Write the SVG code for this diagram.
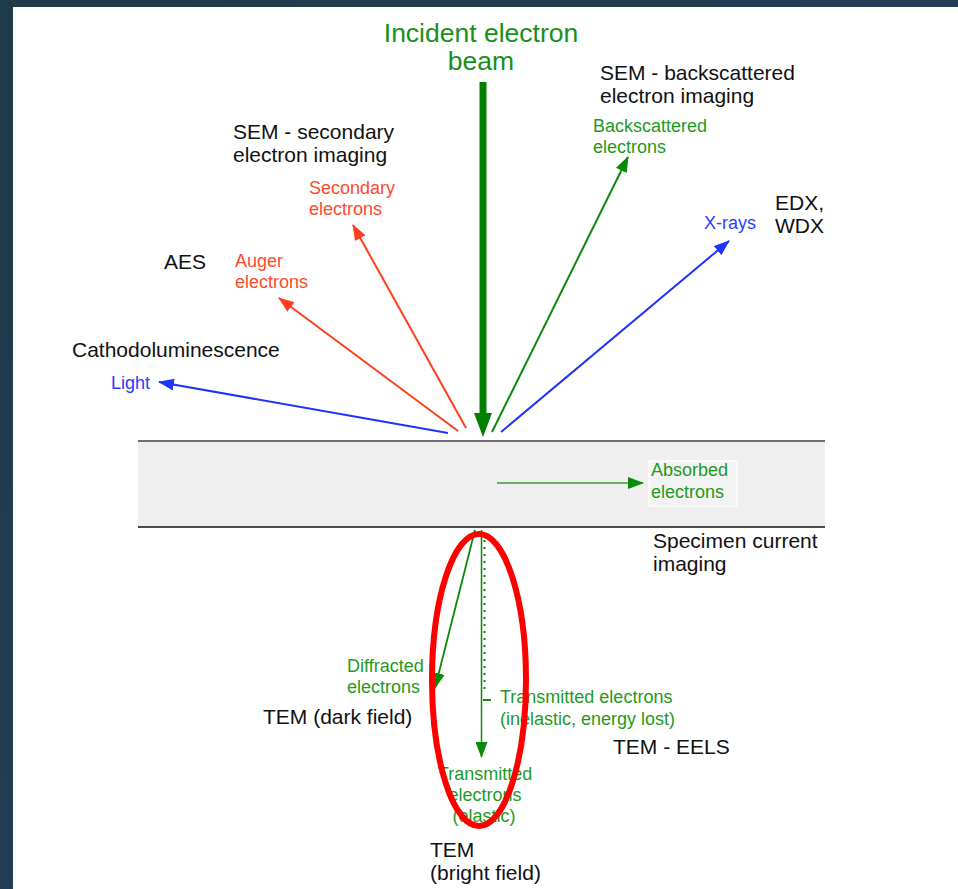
<svg xmlns="http://www.w3.org/2000/svg" width="958" height="889" viewBox="0 0 958 889">
<defs>
<linearGradient id="bg" x1="0" y1="0" x2="1" y2="1">
<stop offset="0" stop-color="#1f3a48"/>
<stop offset="0.5" stop-color="#223d55"/>
<stop offset="1" stop-color="#2c5068"/>
</linearGradient>
<marker id="ah-red" viewBox="0 0 16 12" refX="15" refY="6" markerWidth="16" markerHeight="12" markerUnits="userSpaceOnUse" orient="auto">
<path d="M0,0 L16,6 L0,12 Z" fill="#ff3d1f"/>
</marker>
<marker id="ah-blue" viewBox="0 0 16 12" refX="15" refY="6" markerWidth="16" markerHeight="12" markerUnits="userSpaceOnUse" orient="auto">
<path d="M0,0 L16,6 L0,12 Z" fill="#1f33ff"/>
</marker>
<marker id="ah-green" viewBox="0 0 16 12" refX="15" refY="6" markerWidth="16" markerHeight="12" markerUnits="userSpaceOnUse" orient="auto">
<path d="M0,0 L16,6 L0,12 Z" fill="#0a8a0a"/>
</marker>
</defs>
<style>
text { font-family: "Liberation Sans", Arial, sans-serif; }
.blk { font-size: 21px; fill: #111111; }
.sm { font-size: 18px; }
.g { fill: #1f9a1f; }
.r { fill: #ff4a2a; }
.b { fill: #2a3dff; }
.big { font-size: 26.5px; fill: #189018; }
.ln { fill: none; stroke-width: 2; }
</style>
<rect x="0" y="0" width="958" height="889" fill="url(#bg)"/>
<rect x="13" y="7" width="945" height="882" fill="#ffffff"/>

<g id="specimen">
<rect x="138" y="441" width="687" height="86" fill="#efefef"/>
<line x1="138" y1="441" x2="825" y2="441" stroke="#707070" stroke-width="2"/>
<line x1="138" y1="527" x2="825" y2="527" stroke="#111111" stroke-width="1.5"/>
</g>

<g id="connectors">
<line x1="483" y1="82" x2="483" y2="414" stroke="#008000" stroke-width="7"/>
<path d="M474,413 L492,413 L483,437 Z" fill="#008000"/>
<line class="ln" x1="448" y1="433" x2="159" y2="382" stroke="#1f33ff" marker-end="url(#ah-blue)"/>
<line class="ln" x1="458" y1="431" x2="279" y2="298" stroke="#ff3d1f" marker-end="url(#ah-red)"/>
<line class="ln" x1="466" y1="428" x2="353" y2="225" stroke="#ff3d1f" marker-end="url(#ah-red)"/>
<line class="ln" x1="492" y1="432" x2="628" y2="157" stroke="#0a8a0a" marker-end="url(#ah-green)"/>
<line class="ln" x1="501" y1="432" x2="729" y2="241" stroke="#1f33ff" marker-end="url(#ah-blue)"/>
<line x1="497" y1="483" x2="643" y2="483" stroke="#3a9a3a" stroke-width="1.5" marker-end="url(#ah-green)"/>
<line x1="475" y1="530" x2="435" y2="688" stroke="#0a8a0a" stroke-width="1.8" marker-end="url(#ah-green)"/>
<line x1="481.5" y1="530" x2="481.5" y2="757" stroke="#0a8a0a" stroke-width="1.5" marker-end="url(#ah-green)"/>
<line x1="484.5" y1="540" x2="484.5" y2="692" stroke="#0a8a0a" stroke-width="2" stroke-dasharray="2 5"/>
<line x1="483" y1="700" x2="491" y2="700" stroke="#0a8a0a" stroke-width="2"/>
</g>

<g id="incident">
<text class="big" x="481" y="42" text-anchor="middle">Incident electron</text>
<text class="big" x="481" y="70" text-anchor="middle">beam</text>
</g>
<g id="sem-bse">
<text class="blk" x="600" y="80">SEM - backscattered</text>
<text class="blk" x="600" y="103">electron imaging</text>
</g>
<g id="bse">
<text class="sm g" x="593" y="132">Backscattered</text>
<text class="sm g" x="593" y="153">electrons</text>
</g>
<g id="sem-se">
<text class="blk" x="233" y="139">SEM - secondary</text>
<text class="blk" x="233" y="162">electron imaging</text>
</g>
<g id="se">
<text class="sm r" x="309" y="194">Secondary</text>
<text class="sm r" x="309" y="215">electrons</text>
</g>
<g id="aes">
<text class="blk" x="164" y="269">AES</text>
</g>
<g id="auger">
<text class="sm r" x="235" y="267">Auger</text>
<text class="sm r" x="235" y="288">electrons</text>
</g>
<g id="cl">
<text class="blk" x="72" y="357">Cathodoluminescence</text>
</g>
<g id="light">
<text class="sm b" x="111" y="389">Light</text>
</g>
<g id="xrays">
<text class="sm b" x="704" y="229">X-rays</text>
</g>
<g id="edx">
<text class="blk" x="775" y="210">EDX,</text>
<text class="blk" x="775" y="233">WDX</text>
</g>
<g id="absorbed">
<rect x="649" y="461" width="88" height="45" fill="#f3f3f3" stroke="#ffffff" stroke-width="1.2"/>
<text class="sm g" x="651" y="476">Absorbed</text>
<text class="sm g" x="651" y="498">electrons</text>
</g>
<g id="specimen-current">
<text class="blk" x="653" y="548">Specimen current</text>
<text class="blk" x="653" y="571">imaging</text>
</g>
<g id="diffracted">
<text class="sm g" x="347" y="672">Diffracted</text>
<text class="sm g" x="347" y="693">electrons</text>
</g>
<g id="tem-dark">
<text class="blk" x="263" y="724">TEM (dark field)</text>
</g>
<g id="inelastic">
<text class="sm g" x="500" y="703">Transmitted electrons</text>
<text class="sm g" x="500" y="725">(inelastic, energy lost)</text>
</g>
<g id="eels">
<text class="blk" x="613" y="754">TEM - EELS</text>
</g>
<g id="elastic">
<text class="sm g" x="485" y="780" text-anchor="middle">Transmitted</text>
<text class="sm g" x="485" y="801" text-anchor="middle">electrons</text>
<text class="sm g" x="484" y="822" text-anchor="middle">(elastic)</text>
</g>
<g id="tem-bright">
<text class="blk" x="430" y="857">TEM</text>
<text class="blk" x="430" y="880">(bright field)</text>
</g>
<g id="highlight">
<ellipse cx="479" cy="680" rx="47" ry="146" fill="none" stroke="#ff0000" stroke-width="6"/>
</g>
</svg>
